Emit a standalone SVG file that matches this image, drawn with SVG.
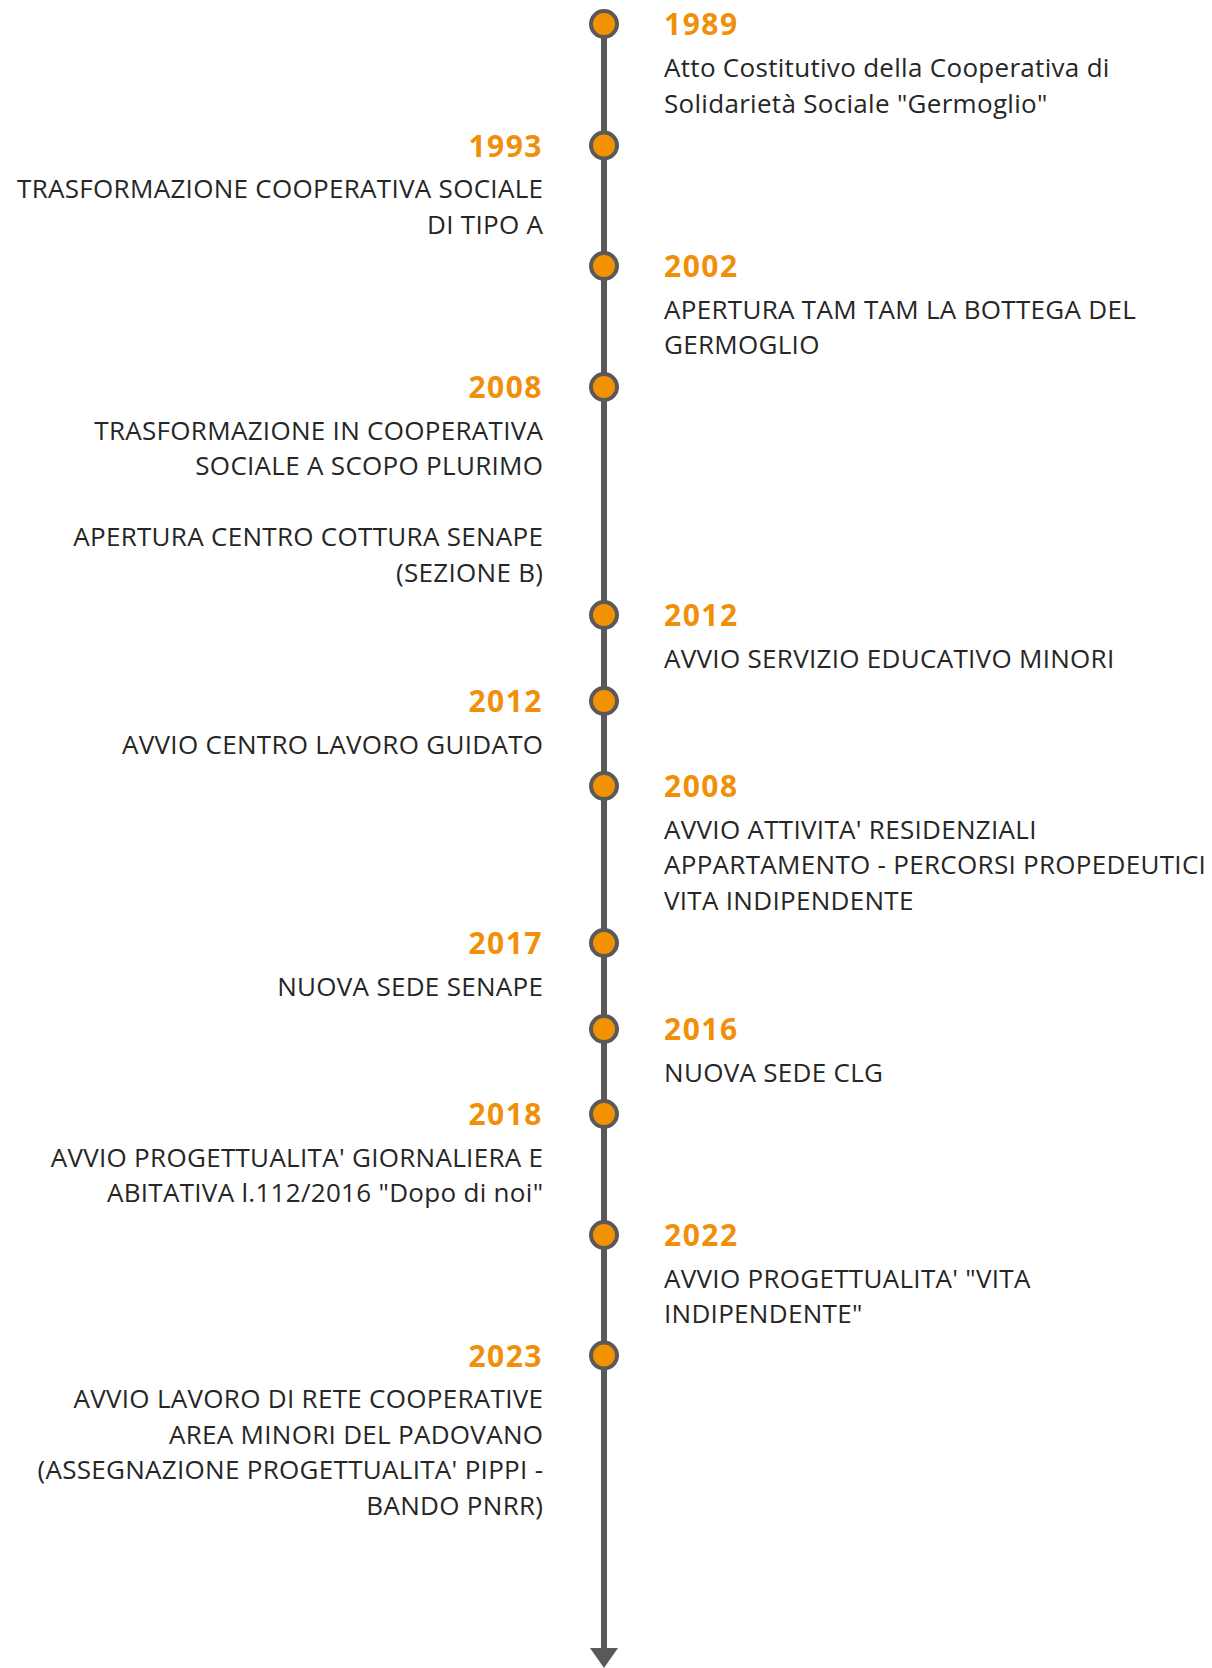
<svg xmlns="http://www.w3.org/2000/svg" width="1212" height="1668" viewBox="0 0 1212 1668">
<style>
.yr{font-family:"Open Sans","Noto Sans",sans-serif;font-weight:bold;font-size:30px;letter-spacing:1.5px;fill:#F0900A}
.tx{font-family:"Open Sans","Noto Sans",sans-serif;font-size:26px;letter-spacing:0.3px;fill:#262626}
.l{text-anchor:end}
.dot{fill:#F39200;stroke:#595959;stroke-width:4}
</style>
<defs>
<marker id="ah" markerUnits="userSpaceOnUse" markerWidth="20" markerHeight="28" refX="0" refY="14" orient="auto" viewBox="0 0 20 28">
<path d="M0,0 L20,14 L0,28 Z" fill="#595959"/>
</marker>
</defs>
<g id="connectors">
<line x1="604" y1="24" x2="604" y2="1648" stroke="#595959" stroke-width="6" marker-end="url(#ah)"/>
</g>
<g id="e1989"><circle class="dot" cx="604" cy="24" r="13"/><text class="yr" x="664" y="35">1989</text><text class="tx" x="664" y="77">Atto Costitutivo della Cooperativa di</text><text class="tx" x="664" y="112.5">Solidarietà Sociale "Germoglio"</text></g>
<g id="e1993"><circle class="dot" cx="604" cy="145.5" r="13"/><text class="yr l" x="543" y="156.5">1993</text><text class="tx l" x="543.3" y="198">TRASFORMAZIONE COOPERATIVA SOCIALE</text><text class="tx l" x="543.3" y="233.5">DI TIPO A</text></g>
<g id="e2002"><circle class="dot" cx="604" cy="266" r="13"/><text class="yr" x="664" y="277">2002</text><text class="tx" x="664" y="318.5">APERTURA TAM TAM LA BOTTEGA DEL</text><text class="tx" x="664" y="354">GERMOGLIO</text></g>
<g id="e2008a"><circle class="dot" cx="604" cy="387" r="13"/><text class="yr l" x="543" y="398">2008</text><text class="tx l" x="543.3" y="439.5">TRASFORMAZIONE IN COOPERATIVA</text><text class="tx l" x="543.3" y="475">SOCIALE A SCOPO PLURIMO</text><text class="tx l" x="543.3" y="546">APERTURA CENTRO COTTURA SENAPE</text><text class="tx l" x="543.3" y="581.5">(SEZIONE B)</text></g>
<g id="e2012a"><circle class="dot" cx="604" cy="615" r="13"/><text class="yr" x="664" y="626">2012</text><text class="tx" x="664" y="667.5">AVVIO SERVIZIO EDUCATIVO MINORI</text></g>
<g id="e2012b"><circle class="dot" cx="604" cy="701" r="13"/><text class="yr l" x="543" y="712">2012</text><text class="tx l" x="543.3" y="753.5">AVVIO CENTRO LAVORO GUIDATO</text></g>
<g id="e2008b"><circle class="dot" cx="604" cy="786" r="13"/><text class="yr" x="664" y="797">2008</text><text class="tx" x="664" y="838.5">AVVIO ATTIVITA' RESIDENZIALI</text><text class="tx" x="664" y="874">APPARTAMENTO - PERCORSI PROPEDEUTICI</text><text class="tx" x="664" y="909.5">VITA INDIPENDENTE</text></g>
<g id="e2017"><circle class="dot" cx="604" cy="943" r="13"/><text class="yr l" x="543" y="954">2017</text><text class="tx l" x="543.3" y="995.5">NUOVA SEDE SENAPE</text></g>
<g id="e2016"><circle class="dot" cx="604" cy="1029" r="13"/><text class="yr" x="664" y="1040">2016</text><text class="tx" x="664" y="1081.5">NUOVA SEDE CLG</text></g>
<g id="e2018"><circle class="dot" cx="604" cy="1114" r="13"/><text class="yr l" x="543" y="1125">2018</text><text class="tx l" x="543.3" y="1166.5">AVVIO PROGETTUALITA' GIORNALIERA E</text><text class="tx l" x="543.3" y="1202">ABITATIVA l.112/2016 "Dopo di noi"</text></g>
<g id="e2022"><circle class="dot" cx="604" cy="1235" r="13"/><text class="yr" x="664" y="1246">2022</text><text class="tx" x="664" y="1287.5">AVVIO PROGETTUALITA' "VITA</text><text class="tx" x="664" y="1323">INDIPENDENTE"</text></g>
<g id="e2023"><circle class="dot" cx="604" cy="1355.5" r="13"/><text class="yr l" x="543" y="1366.5">2023</text><text class="tx l" x="543.3" y="1408">AVVIO LAVORO DI RETE COOPERATIVE</text><text class="tx l" x="543.3" y="1443.5">AREA MINORI DEL PADOVANO</text><text class="tx l" x="543.3" y="1479">(ASSEGNAZIONE PROGETTUALITA' PIPPI -</text><text class="tx l" x="543.3" y="1514.5">BANDO PNRR)</text></g>
</svg>
